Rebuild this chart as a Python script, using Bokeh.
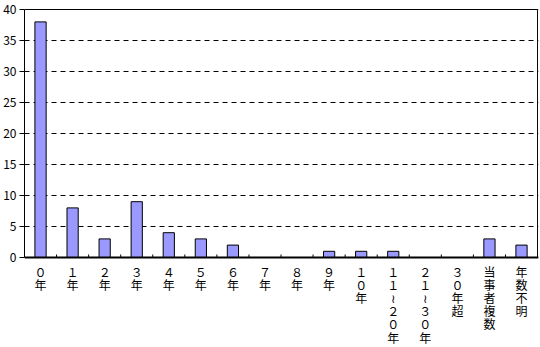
from bokeh.plotting import figure
from bokeh.models import Range1d, FixedTicker, Span
from bokeh.core.properties import value
from bokeh.embed import file_html
from bokeh.resources import INLINE

categories = ["０年", "１年", "２年", "３年", "４年", "５年", "６年", "７年", "８年", "９年",
              "１０年", "１１～２０年", "２１～３０年", "３０年超", "当事者複数", "年数不明"]
values = [38, 8, 3, 9, 4, 3, 2, 0, 0, 1, 1, 1, 0, 0, 3, 2]
y_ticks = [0, 5, 10, 15, 20, 25, 30, 35, 40]

FONT = "Noto Sans CJK JP"
Y_MAX = 40
H, W = 347, 540
TOP = 5
PLOT_TOP_PX, PLOT_BOTTOM_PX = 9, 257       # where y=40 and y=0 sit
PX = (PLOT_BOTTOM_PX - PLOT_TOP_PX) / Y_MAX  # pixels per data unit
N = len(categories)

y_start = -(H - PLOT_BOTTOM_PX) / PX
y_end = Y_MAX + (PLOT_TOP_PX - TOP) / PX

centers = [i + 0.5 for i in range(N)]

p = figure(width=W, height=H, output_backend="svg", toolbar_location=None,
           x_range=Range1d(0, N + 0.03), y_range=Range1d(y_start, y_end),
           min_border_left=6, min_border_right=2, min_border_top=TOP, min_border_bottom=0)

p.outline_line_color = None
p.background_fill_color = "white"
p.border_fill_color = "white"

# grid
p.xgrid.grid_line_color = None
p.ygrid.grid_line_color = "black"
p.ygrid.grid_line_dash = "5 4"
p.ygrid.grid_line_width = 1

# bars
p.vbar(x=centers, top=values, width=0.35, fill_color="#9999FF", line_color="black", line_width=1)

# plot box: top and right borders
p.segment(x0=[0, N], y0=[Y_MAX, 0], x1=[N, N], y1=[Y_MAX, Y_MAX], line_color="black", line_width=1)
# baseline (category axis)
p.add_layout(Span(location=0, dimension="width", line_color="black", line_width=2))
# small ticks at category boundaries
bounds = list(range(N + 1))
p.segment(x0=bounds, y0=[0] * len(bounds), x1=bounds, y1=[3 / PX] * len(bounds),
          line_color="black", line_width=1)

# y axis
p.yaxis.ticker = FixedTicker(ticks=y_ticks)
p.yaxis.bounds = (0, Y_MAX)
p.yaxis.minor_tick_line_color = None
p.yaxis.major_tick_in = 0
p.yaxis.major_tick_out = 5
p.yaxis.major_label_standoff = 3
p.yaxis.axis_line_color = "black"
p.yaxis.major_label_text_font = FONT
p.yaxis.major_label_text_font_size = "12px"
p.yaxis.major_label_text_color = "black"
p.xaxis.visible = False

# vertical category labels, one character per line
xs, ys, chars = [], [], []
for c, s in zip(centers, categories):
    for k, ch in enumerate(s):
        xs.append(c)
        ys.append(-(13.5 + 13.2 * k) / PX)
        chars.append("≀" if ch == "～" else ch)
p.text(x=xs, y=ys, text=chars, text_align="center", text_baseline="middle",
       text_font=value(FONT), text_font_size="12px", text_color="black")

open("out.html", "w").write(file_html(p, INLINE))
